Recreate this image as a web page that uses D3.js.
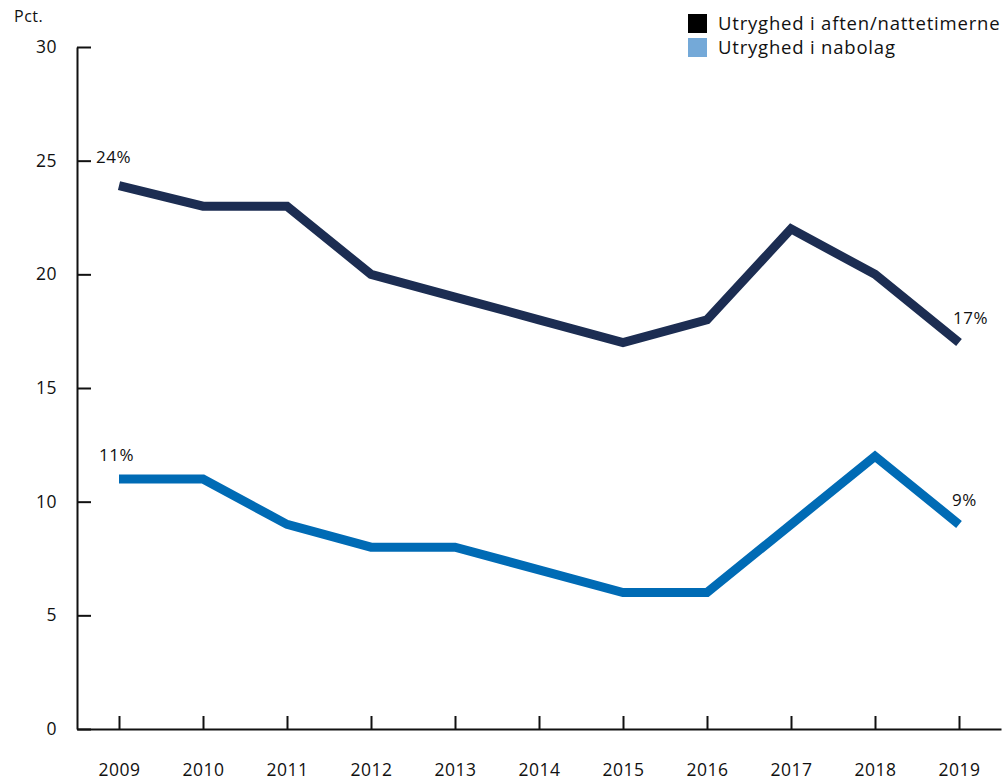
<!DOCTYPE html>
<html>
<head>
<meta charset="utf-8">
<script src="https://cdn.jsdelivr.net/npm/d3@7"></script>
<style>
  body { margin: 0; background: #fff; }
  svg { font-family: "Open Sans", "Noto Sans", sans-serif; letter-spacing: 0.5px; }
  .axis text { font-family: "Open Sans", "Noto Sans", sans-serif; font-size: 17.5px; fill: #111; }
  .axis path, .axis line { stroke: #111; stroke-width: 2; }
</style>
</head>
<body>
<div id="container"></div>
<script>
const years = ['2009', '2010', '2011', '2012', '2013', '2014', '2015', '2016', '2017', '2018', '2019'];
const nightValues = [23.9, 23, 23, 20, 19, 18, 17, 18, 22, 20, 17];
const hoodValues = [11, 11, 9, 8, 8, 7, 6, 6, 9, 12, 9];
const seriesNames = ['Utryghed i aften/nattetimerne', 'Utryghed i nabolag'];
const yTicks = [0, 5, 10, 15, 20, 25, 30];
const endLabels = [['24%', '17%'], ['11%', '9%']];

const width = 1004;
const height = 784;
const plotLeft = 77, plotRight = 1001, plotTop = 47, plotBottom = 729;

const svg = d3.select('#container')
              .append('svg')
              .attr('width', width)
              .attr('height', height);

const x = d3.scalePoint()
            .domain(years)
            .range([plotLeft, plotRight])
            .padding(0.5);

const y = d3.scaleLinear()
            .domain([0, 30])
            .range([plotBottom, plotTop]);

// axes
svg.append('g')
   .attr('class', 'axis')
   .attr('transform', 'translate(0,' + plotBottom + ')')
   .call(d3.axisBottom(x).tickSizeInner(-13).tickSizeOuter(0).tickPadding(35))
   .call(g => g.selectAll('text').attr('dy', '0.71em'));

svg.append('g')
   .attr('class', 'axis')
   .attr('transform', 'translate(' + plotLeft + ',0)')
   .call(d3.axisLeft(y).tickValues(yTicks).tickSizeInner(-14).tickSizeOuter(0).tickPadding(20));

svg.append('text')
   .attr('x', 14)
   .attr('y', 22)
   .style('font-size', '16px')
   .attr('fill', '#111')
   .text('Pct.');

const colors = ['#1c2d52', '#006bb5'];
const legendColors = ['#000000', '#74a9d8'];
const series = [nightValues, hoodValues];

const line = d3.line()
               .x((d, i) => x(years[i]))
               .y(d => y(d));

series.forEach((vals, s) => {
    svg.append('path')
       .datum(vals)
       .attr('fill', 'none')
       .attr('stroke', colors[s])
       .attr('stroke-width', 9)
       .attr('d', line);
});

// end labels
const labelOffsets = [[{dx: -23, dy: -23}, {dx: -6, dy: -19}], [{dx: -20, dy: -18}, {dx: -7, dy: -18}]];
series.forEach((vals, s) => {
    const first = 0, last = vals.length - 1;
    [first, last].forEach((idx, k) => {
        svg.append('text')
           .attr('x', x(years[idx]) + labelOffsets[s][k].dx)
           .attr('y', y(vals[idx]) + labelOffsets[s][k].dy)
           .style('font-size', '17px')
           .attr('fill', '#111')
           .text(endLabels[s][k]);
    });
});

// legend
const legend = svg.append('g');
seriesNames.forEach((name, i) => {
    legend.append('rect')
          .attr('x', 688)
          .attr('y', 14 + i * 24)
          .attr('width', 19)
          .attr('height', 19)
          .attr('fill', legendColors[i]);
    legend.append('text')
          .attr('x', 718)
          .attr('y', 30 + i * 24)
          .style('font-size', '18.5px')
          .style('letter-spacing', '0.8px')
          .attr('fill', '#111')
          .text(name);
});
</script>
</body>
</html>
